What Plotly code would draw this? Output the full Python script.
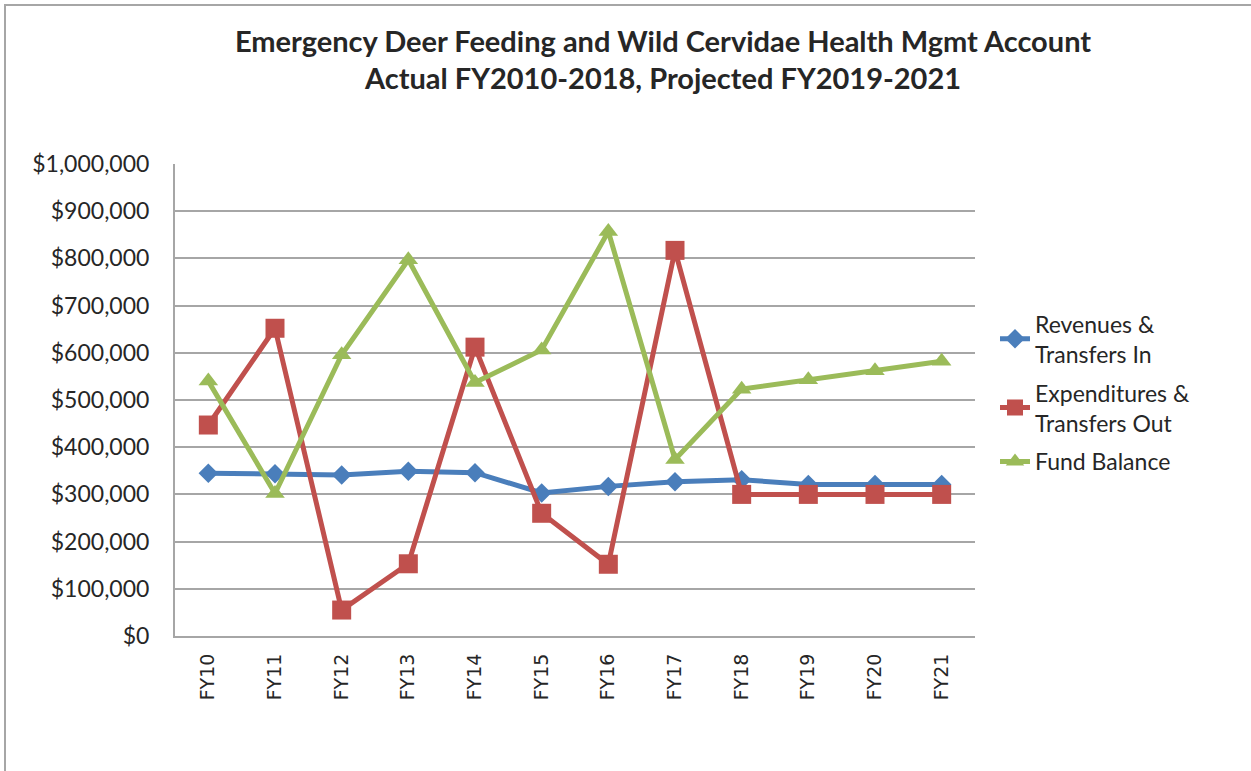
import plotly.graph_objects as go


# chart data
years = ['FY10', 'FY11', 'FY12', 'FY13', 'FY14', 'FY15', 'FY16', 'FY17', 'FY18', 'FY19', 'FY20', 'FY21']
revenues = [345000, 344000, 341000, 349000, 346000, 303000, 317000, 327000, 331000, 321000, 321000, 321000]
expenditures = [447000, 652000, 55000, 153000, 612000, 260000, 152000, 817000, 300000, 300000, 300000, 300000]
fund_balance = [540000, 302000, 596000, 797000, 537000, 606000, 857000, 374000, 523000, 543000, 562000, 582000]

y_ticks = [0, 100000, 200000, 300000, 400000, 500000, 600000, 700000, 800000, 900000, 1000000]
y_labels = ['$0', '$100,000', '$200,000', '$300,000', '$400,000', '$500,000',
            '$600,000', '$700,000', '$800,000', '$900,000', '$1,000,000']

series = [
	('Revenues &<br>Transfers In', revenues, '#4A7EBB', 'diamond', 15),
	('Expenditures &<br>Transfers Out', expenditures, '#C0504D', 'square', 19),
	('Fund Balance', fund_balance, '#9BBB59', 'triangle-up', 17),
]

fig = go.Figure()

for name, vals, color, symbol, msize in series:
	fig.add_trace(go.Scatter(
							x			= years,
							y			= vals,
							name		= name,
							legendgroup	= name,
							mode		= 'lines+markers',
							line		= dict(color=color, width=5),
							marker		= dict(color=color, symbol=symbol, size=msize),
							))

# outer frame of the chart (left + top edges visible)
fig.add_shape(type='rect', xref='paper', yref='paper',
			x0=-0.2125, x1=1.4, y0=-0.4, y1=(636 - 5) / 472,
			line=dict(color='#A6A6A6', width=2), fillcolor='rgba(0,0,0,0)', layer='below')

fig.update_xaxes(
			type='category',
			range=[-0.5, 11.5],
			showgrid=False,
			showline=True, linecolor='#A6A6A6', linewidth=2,
			tickangle=-90,
			tickfont=dict(family='DejaVu Sans', size=19, color='#262626'),
			ticks='', ticklabelstandoff=8,
			)

fig.update_yaxes(
			range=[0, 1000000],
			tickvals=y_ticks, ticktext=y_labels,
			showgrid=True, gridcolor='#A6A6A6', gridwidth=2,
			showline=True, linecolor='#A6A6A6', linewidth=2,
			zeroline=False,
			tickfont=dict(family='Lato', size=23, color='#262626'),
			ticks='', ticklabelstandoff=19,
			)

fig.update_layout(
			width=1251, height=771,
			margin=dict(l=175, r=276, t=164, b=135),
			paper_bgcolor='white', plot_bgcolor='white',
			title=dict(
				text='<b>Emergency Deer Feeding and Wild Cervidae Health Mgmt Account<br>Actual FY2010-2018, Projected FY2019-2021</b>',
				x=0.61, xref='paper', xanchor='center',
				y=0.933, yref='container', yanchor='middle',
				font=dict(family='Lato', size=29, color='#262626'),
				),
			legend=dict(
				x=1.025, xanchor='left', y=0.515, yanchor='middle',
				font=dict(family='Lato', size=23, color='#262626'),
				tracegroupgap=6,
				),
			showlegend=True,
			)

# drop the default page margin so the figure sits at the window origin
fig.write_html("out.html", config={'displayModeBar': False},
			post_script="document.body.style.margin='0';")
